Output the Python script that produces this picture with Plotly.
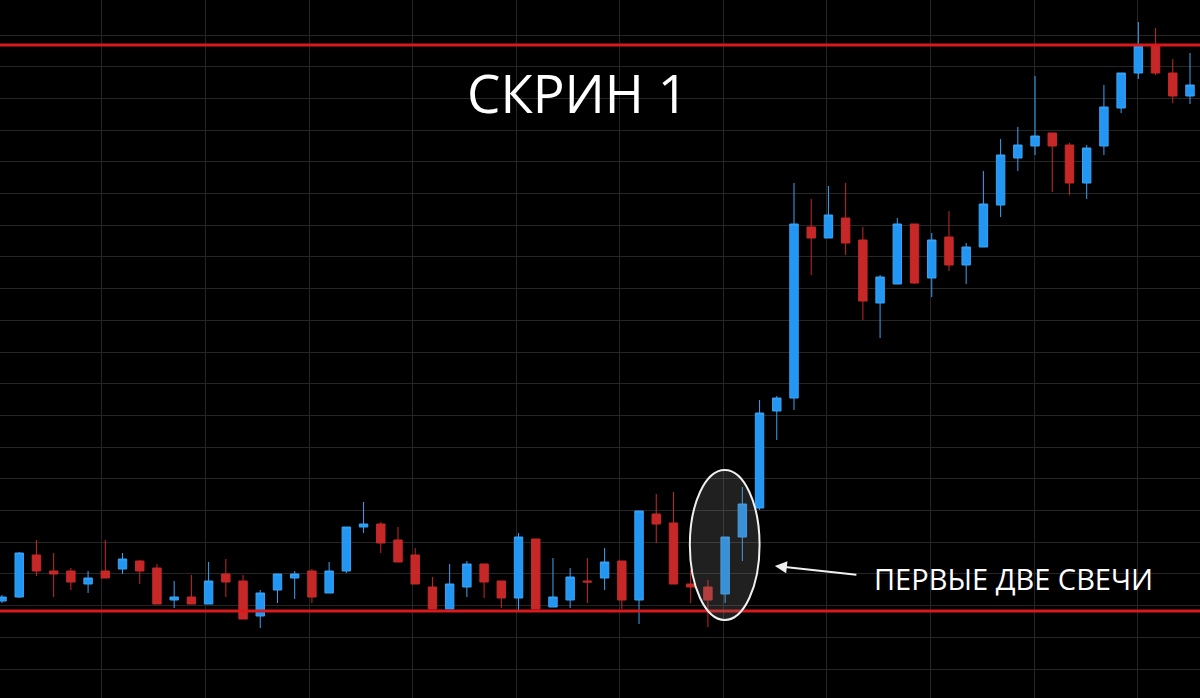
import plotly.graph_objects as go

# Readings (screen-y units, converted to price below)
open_y  = [601,597,555,571,571,584,571,569,561,568,600,597,604,574,581,616,590,578,571,593,571,527,524,540,
           555,587,609,587,564,581,598,539,607,600,581,578,561,600,514,523,584,587,594,537,508,411,398,227,238,218,
           240,303,284,224,278,237,265,247,205,158,146,133,145,183,146,108,73,46,73,96]
close_y = [597,553,571,574,582,578,578,559,571,604,597,604,581,582,619,593,574,574,597,571,527,524,543,562,
           584,609,584,564,582,598,537,609,597,577,582,562,600,511,524,584,587,600,537,504,413,398,224,238,215,243,
           301,277,224,283,240,265,247,204,155,145,136,146,183,148,107,73,46,73,96,85]
high_y  = [595,552,540,553,568,571,540,553,560,564,581,575,562,559,575,590,574,571,569,562,527,502,522,527,
           548,577,564,561,564,581,533,539,558,568,558,548,561,511,494,492,570,580,537,487,400,396,183,199,186,183,
           227,275,218,224,233,211,243,171,139,127,76,133,143,145,85,73,22,28,59,53]
low_y   = [603,598,576,597,590,593,578,574,584,604,608,604,604,597,619,628,603,599,603,593,573,533,553,562,
           584,609,609,597,598,608,610,609,607,608,603,590,609,624,543,584,603,627,603,561,510,440,410,275,238,255,
           320,338,284,284,297,271,284,247,217,171,155,192,195,199,155,113,79,75,103,104]

BASE = 698
opens = [BASE - v for v in open_y]
closes = [BASE - v for v in close_y]
highs = [BASE - v for v in high_y]
lows = [BASE - v for v in low_y]
idx = list(range(len(opens)))

support = BASE - 611
resistance = BASE - 45
title_text = "СКРИН 1"
note_text = "ПЕРВЫЕ ДВЕ СВЕЧИ"

fig = go.Figure(go.Candlestick(
    x=idx, open=opens, high=highs, low=lows, close=closes,
    increasing=dict(line=dict(color="#3ba3f5", width=1), fillcolor="#2196f3"),
    decreasing=dict(line=dict(color="#c62828", width=1), fillcolor="#c62828"),
    whiskerwidth=0,
))

step = 17.22
fig.update_layout(
    width=1200, height=698, margin=dict(l=0, r=0, t=0, b=0),
    paper_bgcolor="#000000", plot_bgcolor="#000000", showlegend=False,
    xaxis=dict(range=[-2/step, 69 + 10/step], rangeslider=dict(visible=False),
               tickvals=[5.8 + 6.016*k for k in range(12)], showticklabels=False,
               gridcolor="#262626", gridwidth=1, zeroline=False),
    yaxis=dict(range=[0, BASE], tickvals=[663 - 31.7*k for k in range(21)], showticklabels=False,
               gridcolor="#262626", gridwidth=1, zeroline=False),
)
fig.add_hline(y=resistance, line=dict(color="#d9191c", width=3))
fig.add_hline(y=support, line=dict(color="#d9191c", width=3))
fig.add_shape(type="circle", x0=39.95, x1=44.0, y0=78, y1=228,
              line=dict(color="#f0f0f0", width=2), fillcolor="rgba(128,128,128,0.25)")
fig.add_annotation(x=(578-2)/step, y=BASE-92, text=title_text, showarrow=False,
                   font=dict(family="Open Sans", size=53, color="#ffffff"))
fig.add_annotation(x=(1014-2)/step, y=BASE-578, text=note_text, showarrow=False,
                   font=dict(family="Open Sans", size=29, color="#ffffff"))
fig.add_annotation(x=(775-2)/step, y=BASE-566, ax=(858-2)/step, ay=BASE-575,
                   xref="x", yref="y", axref="x", ayref="y", text="", showarrow=True,
                   arrowhead=2, arrowsize=1.2, arrowwidth=2, arrowcolor="#f0f0f0")
fig.write_html("out.html", config={"displayModeBar": False},
               post_script="document.body.style.margin='0';")
